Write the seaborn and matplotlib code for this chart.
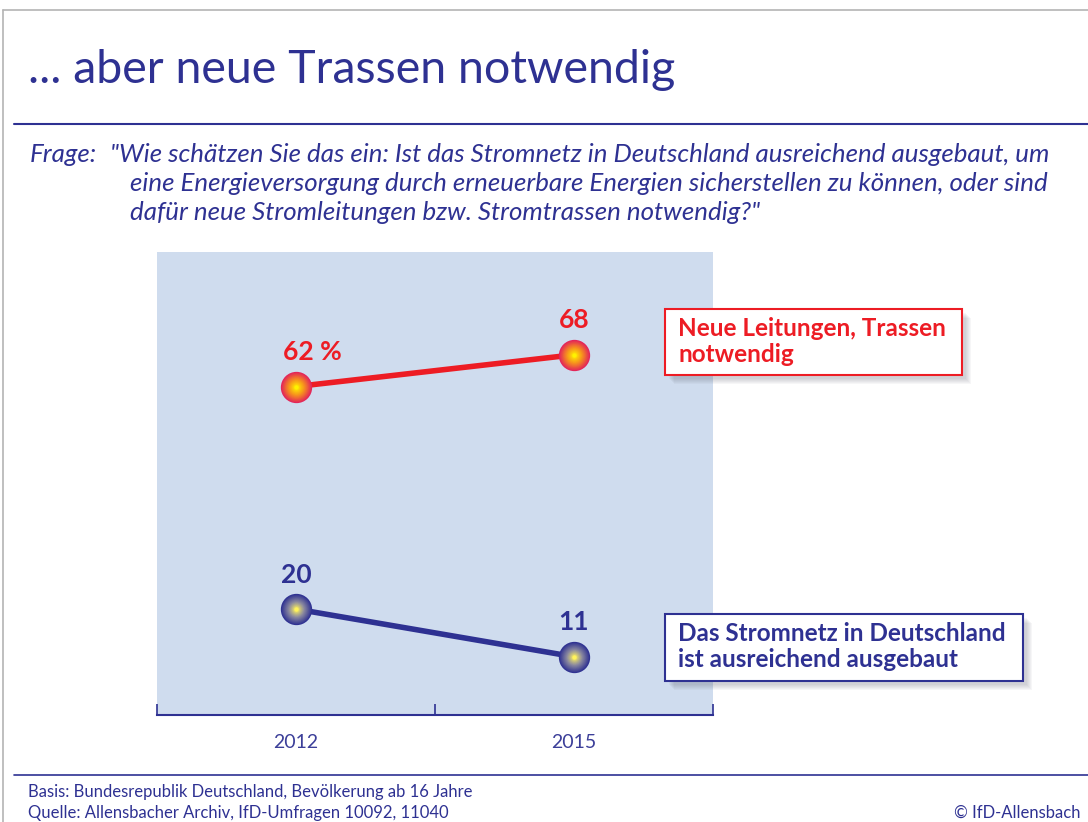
import numpy as np
import pandas as pd
import seaborn as sns
import matplotlib.pyplot as plt
from matplotlib.patches import Rectangle
from matplotlib.lines import Line2D
from matplotlib.colors import to_rgb

# Data
years = ['2012', '2015']
neue_trassen = [62, 68]
ausreichend = [20, 11]
labels_neue = ['62 %', '68']
labels_ausr = ['20', '11']

navy = '#2e3192'
red = '#ed1c24'
bg = '#cfdcee'

df = pd.DataFrame({
    'Jahr': years * 2,
    'Wert': neue_trassen + ausreichend,
    'Serie': ['neu'] * 2 + ['ausr'] * 2,
})

sns.set_style('white')
plt.rcParams['font.family'] = ['Lato', 'DejaVu Sans']

fig = plt.figure(figsize=(10.88, 8.22), dpi=100)
W, H = 1088, 822


def fx(px):
    return px / W


def fy(py):
    return 1 - py / H


ax = fig.add_axes([fx(157), fy(715), fx(713) - fx(157), fy(252) - fy(715)])
ax.set_facecolor(bg)

sns.lineplot(data=df, x='Jahr', y='Wert', hue='Serie',
             palette={'neu': red, 'ausr': navy}, linewidth=4,
             legend=False, sort=False, ax=ax)


# sphere-like markers: stacked circles going from edge colour to yellow
def sphere(xs, ys, edge, mid, centre):
    n = 20
    for i in range(n):
        t = i / (n - 1)
        if t < 0.5:
            c = np.array(to_rgb(edge)) * (1 - 2 * t) + np.array(to_rgb(mid)) * 2 * t
        else:
            c = np.array(to_rgb(mid)) * (2 - 2 * t) + np.array(to_rgb(centre)) * (2 * t - 1)
        s = 500 * (1 - t) ** 2 + 8
        ax.scatter(xs, ys, s=s, color=c, linewidths=0, zorder=5 + i * 0.01)


xpos = np.arange(len(years))
sphere(xpos, neue_trassen, '#e3245a', '#f7941d', '#fff200')
sphere(xpos, ausreichend, '#2e3192', '#8c8aa0', '#fff35c')

offsets_neue = [(12, 19), (0, 19)]
for x, v, lab, off in zip(xpos, neue_trassen, labels_neue, offsets_neue):
    ax.annotate(lab, (x, v), xytext=off, textcoords='offset points',
                ha='center', va='baseline', color=red, fontsize=19,
                fontweight='bold')
for x, v, lab in zip(xpos, ausreichend, labels_ausr):
    ax.annotate(lab, (x, v), xytext=(0, 19), textcoords='offset points',
                ha='center', va='baseline', color=navy, fontsize=19,
                fontweight='bold')

ax.set_xlim(-0.5, 1.5)
ax.set_ylim(0, 87.4)
ax.set_yticks([])
ax.set_xlabel('')
ax.set_ylabel('')
for side in ['top', 'right', 'left']:
    ax.spines[side].set_visible(False)
ax.spines['bottom'].set_color(navy)
ax.spines['bottom'].set_linewidth(1.5)
ax.set_xticks(xpos)
ax.set_xticklabels(years)
ax.set_xticks([-0.5, 0.5, 1.5], minor=True)
ax.tick_params(axis='x', which='major', length=0, pad=14, labelsize=14,
               labelcolor='#3c3f99')
ax.tick_params(axis='x', which='minor', direction='in', length=8,
               width=1.2, color=navy, bottom=True)

# frame lines
fig.add_artist(Line2D([fx(3), 1], [fy(10), fy(10)], color='#b4b4b4', lw=1.2))
fig.add_artist(Line2D([fx(3), fx(3)], [0, fy(10)], color='#b4b4b4', lw=1.2))
fig.add_artist(Line2D([fx(14), 1], [fy(124), fy(124)], color=navy, lw=1.5))
fig.add_artist(Line2D([fx(14), 1], [fy(775), fy(775)], color=navy, lw=1.2))

# title and question
fig.text(fx(28), fy(83), '... aber neue Trassen notwendig', color=navy,
         fontsize=33.5, va='baseline')
q_kw = dict(color=navy, fontsize=18.6, style='italic', va='baseline')
fig.text(fx(30), fy(162), 'Frage:', **q_kw)
fig.text(fx(110), fy(162), '"Wie schätzen Sie das ein: Ist das Stromnetz in '
         'Deutschland ausreichend ausgebaut, um', **q_kw)
fig.text(fx(130), fy(191), 'eine Energieversorgung durch erneuerbare Energien '
         'sicherstellen zu können, oder sind', **q_kw)
fig.text(fx(130), fy(220), 'dafür neue Stromleitungen bzw. Stromtrassen '
         'notwendig?"', **q_kw)


# legend boxes with soft shadow
def box(x0, y0, x1, y1, col, lines):
    for k in range(6, 0, -1):
        fig.add_artist(Rectangle((fx(x0 + 3 + k), fy(y1 + 3 + k)),
                                 fx(x1 - x0), fy(y0) - fy(y1),
                                 facecolor='#606070', alpha=0.05,
                                 edgecolor='none'))
    fig.add_artist(Rectangle((fx(x0), fy(y1)), fx(x1 - x0), fy(y0) - fy(y1),
                             facecolor='white', edgecolor=col, lw=1.5))
    for i, t in enumerate(lines):
        fig.text(fx(x0 + 13), fy(y0 + 27 + i * 26), t, color=col,
                 fontsize=17.5, fontweight='bold', va='baseline')


box(665, 309, 962, 375, red, ['Neue Leitungen, Trassen', 'notwendig'])
box(665, 614, 1023, 681, navy, ['Das Stromnetz in Deutschland',
                                'ist ausreichend ausgebaut'])

# footer
f_kw = dict(color=navy, fontsize=12, va='baseline')
fig.text(fx(28), fy(797), 'Basis: Bundesrepublik Deutschland, Bevölkerung '
         'ab 16 Jahre', **f_kw)
fig.text(fx(28), fy(818), 'Quelle: Allensbacher Archiv, IfD-Umfragen 10092, '
         '11040', **f_kw)
fig.text(fx(1080), fy(818), '© IfD-Allensbach', ha='right', **f_kw)

fig.savefig('out.png', dpi=100, facecolor='white')
